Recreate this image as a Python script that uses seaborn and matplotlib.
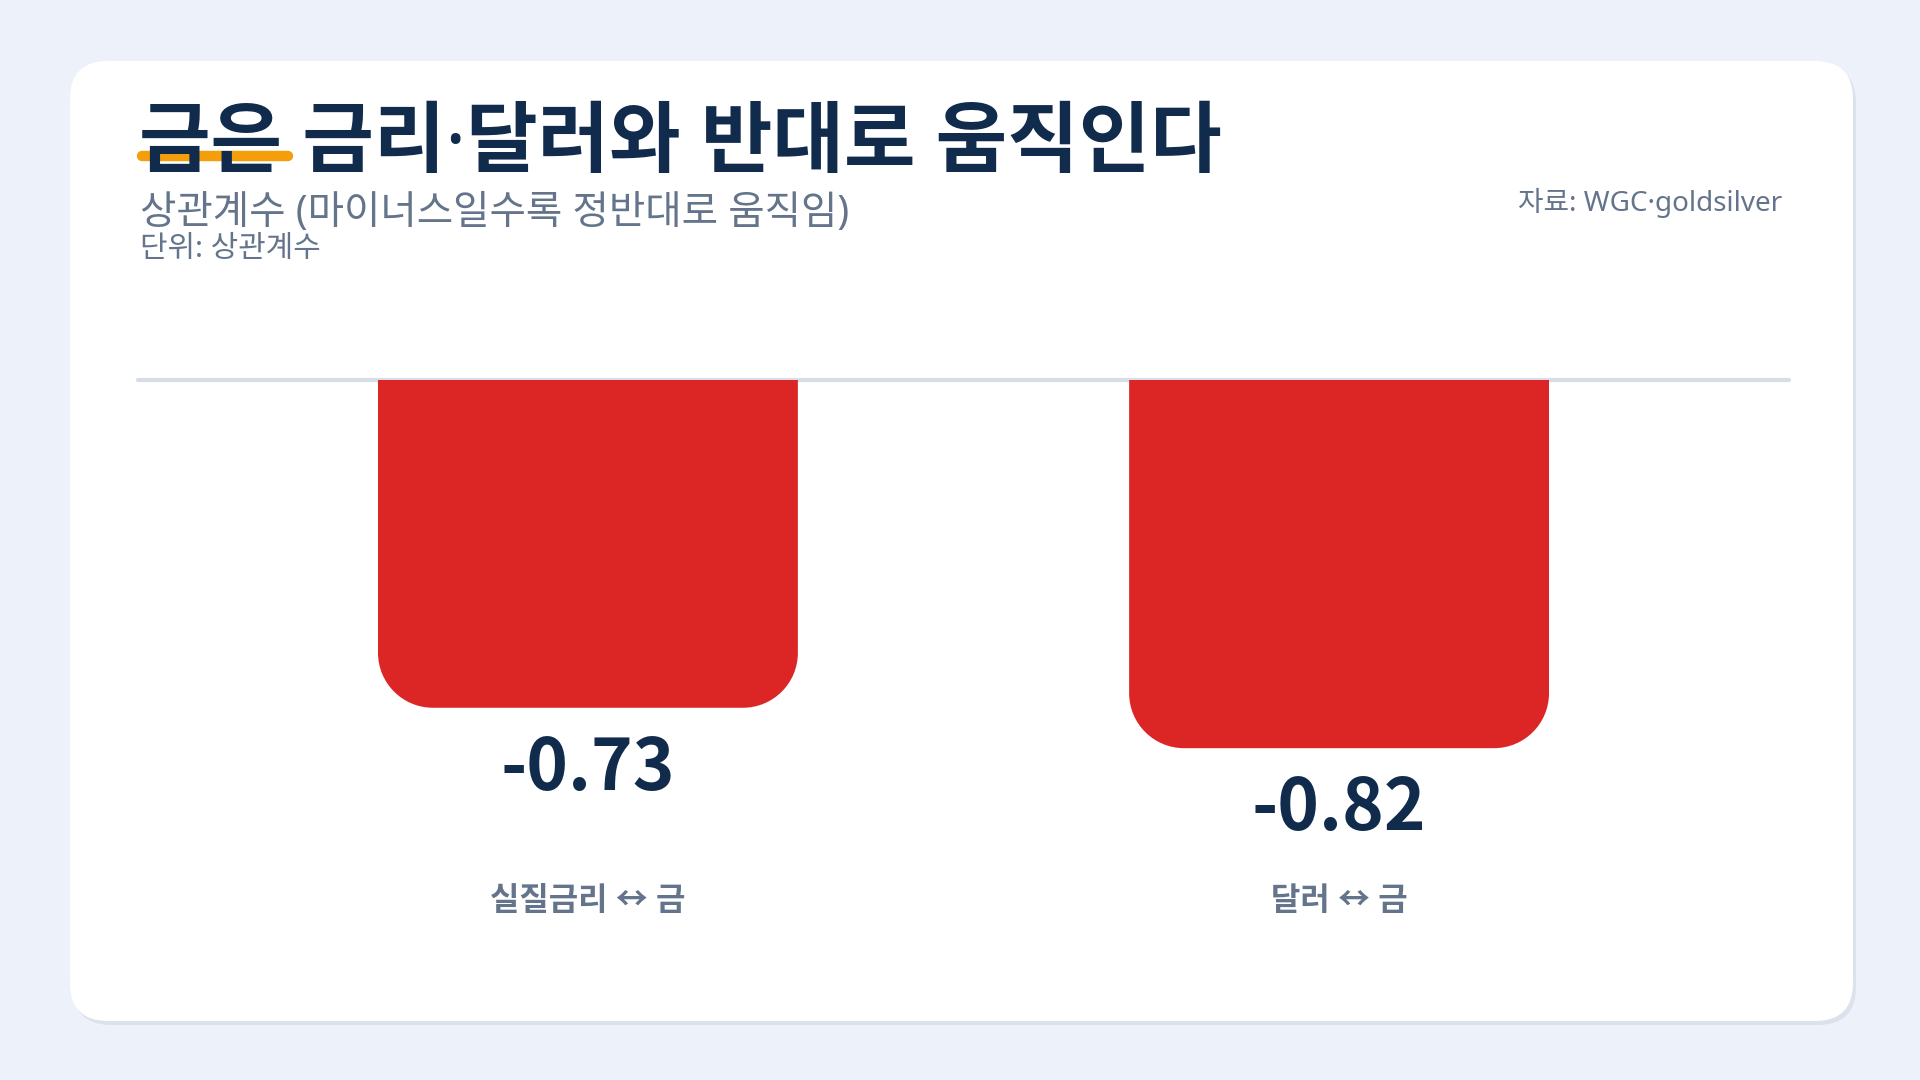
import numpy as np
import pandas as pd
import seaborn as sns
import matplotlib.pyplot as plt
from matplotlib.patches import FancyBboxPatch, PathPatch
from matplotlib.path import Path

# 데이터
categories = ["실질금리 ↔ 금", "달러 ↔ 금"]
values = [-0.73, -0.82]
value_labels = ["-0.73", "-0.82"]

title = "금은 금리·달러와 반대로 움직인다"
subtitle = "상관계수 (마이너스일수록 정반대로 움직임)"
unit_text = "단위: 상관계수"
source_text = "자료: WGC·goldsilver"

# 색상
BG = "#edf1f9"
NAVY = "#112b4c"
SLATE = "#64748b"
RED = "#dc2626"
GRID = "#d6dde7"
ORANGE = "#f59e0b"

sns.set_theme(style="white")
plt.rcParams["font.family"] = ["Noto Sans", "Noto Sans CJK KR", "DejaVu Sans"]
CJK = ["Noto Sans CJK KR", "DejaVu Sans"]

W, H = 1920, 1080
fig = plt.figure(figsize=(W / 100, H / 100), dpi=100)
fig.patch.set_facecolor(BG)

# 배경 카드 (픽셀 좌표)
bg = fig.add_axes([0, 0, 1, 1], zorder=-1)
bg.set_xlim(0, W)
bg.set_ylim(H, 0)
bg.axis("off")
shadow = FancyBboxPatch((73, 65), 1783, 960, boxstyle="round,pad=0,rounding_size=38",
                        facecolor="#dce2ec", edgecolor="none")
card = FancyBboxPatch((70, 61), 1783, 960, boxstyle="round,pad=0,rounding_size=38",
                      facecolor="white", edgecolor="none")
bg.add_patch(shadow)
bg.add_patch(card)

# 제목 밑줄 강조
bg.plot([142, 288], [156, 156], color=ORANGE, lw=7.5, solid_capstyle="round", zorder=2)
bg.text(139, 166, title, fontsize=56, fontweight="bold", color=NAVY, va="baseline", zorder=3)
bg.text(140, 224, subtitle, fontsize=28.5, color=SLATE, va="baseline")
bg.text(140, 257, unit_text, fontsize=21.5, color=SLATE, va="baseline")
bg.text(1782, 211, source_text, fontsize=20, color=SLATE, va="baseline", ha="right")

# 막대 차트
left_px, right_px, top_px, bot_px = 138, 1789, 380, 870
ax = fig.add_axes([left_px / W, 1 - bot_px / H, (right_px - left_px) / W, (bot_px - top_px) / H])
ax.set_facecolor("none")

df = pd.DataFrame({"category": categories, "value": values})
sns.barplot(data=df, x="category", y="value", color=RED, width=0.559, ax=ax,
            saturation=1, edgecolor="none")

ax.set_xlim(-0.599, 1.599)
ymin = -(bot_px - top_px) / 449
ax.set_ylim(ymin, 0)
ax.axhline(0, color=GRID, lw=3, zorder=1, clip_on=False)

# 아래쪽 모서리를 둥글게 다시 그리기
px_x = (right_px - left_px) / (1.599 + 0.599)
px_y = (bot_px - top_px) / (-ymin)
r = 55
rx, ry = r / px_x, r / px_y
k = 0.5523
for p in list(ax.patches):
    x0 = p.get_x()
    x1 = x0 + p.get_width()
    yb = p.get_y() + p.get_height()
    verts = [
        (x0, 0), (x0, yb + ry),
        (x0, yb + ry * (1 - k)), (x0 + rx * (1 - k), yb), (x0 + rx, yb),
        (x1 - rx, yb),
        (x1 - rx * (1 - k), yb), (x1, yb + ry * (1 - k)), (x1, yb + ry),
        (x1, 0), (x0, 0),
    ]
    codes = [Path.MOVETO, Path.LINETO,
             Path.CURVE4, Path.CURVE4, Path.CURVE4,
             Path.LINETO,
             Path.CURVE4, Path.CURVE4, Path.CURVE4,
             Path.LINETO, Path.CLOSEPOLY]
    ax.add_patch(PathPatch(Path(verts, codes), facecolor=RED, edgecolor="none", zorder=2))
    p.set_visible(False)

# 값 라벨
for i, (v, lab) in enumerate(zip(values, value_labels)):
    ax.annotate(lab, xy=(i, v), xytext=(0, -82), textcoords="offset pixels",
                ha="center", va="baseline", fontsize=51, fontweight="bold", color=NAVY,
                family=CJK)

ax.set_xlabel("")
ax.set_ylabel("")
ax.set_yticks([])
ax.tick_params(axis="x", length=0, pad=11, labelsize=23, labelcolor=SLATE)
for t in ax.get_xticklabels():
    t.set_fontweight("bold")
sns.despine(ax=ax, left=True, bottom=True)

fig.savefig("out.png", dpi=100, facecolor=BG)
